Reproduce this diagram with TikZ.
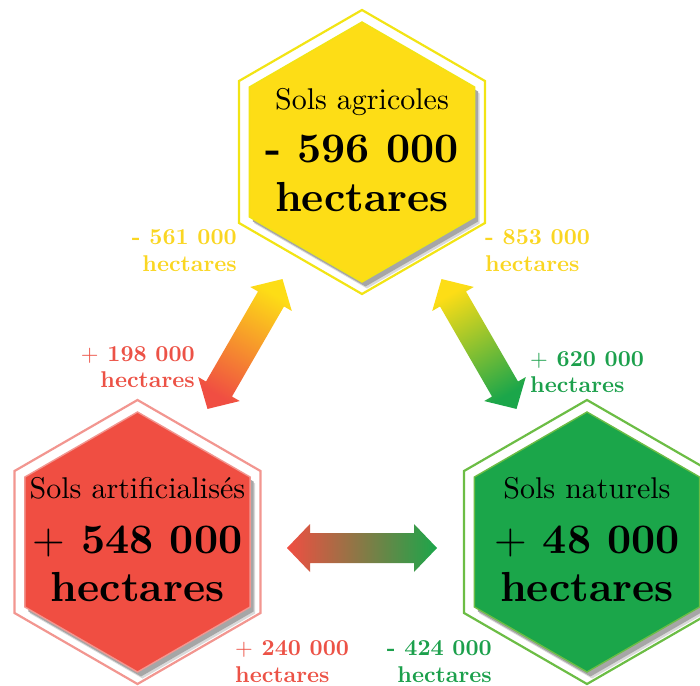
\documentclass[tikz,border=0pt]{standalone}
\usetikzlibrary{calc}
\definecolor{yfill}{RGB}{253,221,22}
\definecolor{yline}{RGB}{242,228,20}
\definecolor{ytext}{RGB}{250,214,34}
\definecolor{rfill}{RGB}{240,78,66}
\definecolor{rline}{RGB}{242,150,144}
\definecolor{rtext}{RGB}{236,82,70}
\definecolor{gfill}{RGB}{27,166,74}
\definecolor{gline}{RGB}{108,189,69}
\definecolor{gtext}{RGB}{28,160,76}
\newcommand\hexname[1]{\scalebox{3}{#1}}
\newcommand\hexval[1]{\scalebox{4.2}{\bfseries #1}}
\newcommand\lbltxt[1]{\scalebox{2.28}{\bfseries #1}}
\newcommand\thinplus{{\mdseries +}}
\tikzset{
  hexagon/.style={insert path={(90:#1) -- (150:#1) -- (210:#1) -- (270:#1) -- (330:#1) -- (30:#1) -- cycle}},
  dbarrow/.style={insert path={(-75,0) -- (-52,24) -- (-52,15) -- (52,15) -- (52,24) -- (75,0) -- (52,-24) -- (52,-15) -- (-52,-15) -- (-52,-24) -- cycle}},
  txt/.style={font=\fontsize{10}{12}\selectfont, inner sep=0pt, anchor=base},
}
\begin{document}
\begin{tikzpicture}[x=1pt,y=1pt]
\useasboundingbox (0,0) rectangle (700,685);
\clip (0,0) rectangle (700,685);
\coordinate (top) at (362,533);
\coordinate (art) at (137.5,143);
\coordinate (nat) at (587,143);

\foreach \c/\f/\l in {top/yfill/yline, art/rfill/rline, nat/gfill/gline}{
  \draw[shift={(\c)}, draw=\l, line width=2.2, fill=white, hexagon=142];
  \fill[shift={(\c)}, xshift=5, yshift=-6.5, gray!30, hexagon=130];
  \fill[shift={(\c)}, xshift=3.5, yshift=-4.5, gray!70, hexagon=130];
  \draw[shift={(\c)}, draw=\l, line width=1.4, fill=\f, hexagon=130];
}

% hexagon texts
\node[txt] (topname) at ($(top)+(0,42)$) {\hexname{Sols agricoles}};
\node[txt] (topval) at ($(top)+(0,-11)$) {\hexval{- 596 000}};
\node[txt] (topunit) at ($(top)+(0,-60)$) {\hexval{hectares}};

\node[txt] (artname) at ($(art)+(0,43)$) {\hexname{Sols artificialisés}};
\node[txt] (artval) at ($(art)+(0,-11)$) {\hexval{\thinplus{} 548 000}};
\node[txt] (artunit) at ($(art)+(0,-59)$) {\hexval{hectares}};

\node[txt] (natname) at ($(nat)+(0,43)$) {\hexname{Sols naturels}};
\node[txt] (natval) at ($(nat)+(0,-11)$) {\hexval{\thinplus{} 48 000}};
\node[txt] (natunit) at ($(nat)+(0,-59)$) {\hexval{hectares}};

% arrows
\coordinate (a1) at (245,341);
\coordinate (a2) at (479,341);
\coordinate (a3) at (362,137);
\shade[shift={(a1)}, rotate=60, top color=yfill, bottom color=rfill, shading angle=-30, dbarrow];
\shade[shift={(a2)}, rotate=-60, top color=yfill, bottom color=gfill, shading angle=30, dbarrow];
\shade[shift={(a3)}, left color=rfill, right color=gfill, dbarrow];

% small labels
\node[txt, text=ytext, anchor=base east] (l1a) at (237,440) {\lbltxt{- 561 000}};
\node[txt, text=ytext, anchor=base east] (l1b) at (237,413) {\lbltxt{hectares}};
\node[txt, text=rtext, anchor=base east] (l2a) at (195,323) {\lbltxt{\thinplus{} 198 000}};
\node[txt, text=rtext, anchor=base east] (l2b) at (195,297) {\lbltxt{hectares}};
\node[txt, text=ytext, anchor=base west] (l3a) at (485,440) {\lbltxt{- 853 000}};
\node[txt, text=ytext, anchor=base west] (l3b) at (485,413) {\lbltxt{hectares}};
\node[txt, text=gtext, anchor=base west] (l4a) at (530,318) {\lbltxt{\thinplus{} 620 000}};
\node[txt, text=gtext, anchor=base west] (l4b) at (530,292) {\lbltxt{hectares}};
\node[txt, text=rtext, anchor=base west] (l5a) at (235,30) {\lbltxt{\thinplus{} 240 000}};
\node[txt, text=rtext, anchor=base west] (l5b) at (235,3) {\lbltxt{hectares}};
\node[txt, text=gtext, anchor=base east] (l6a) at (492,30) {\lbltxt{- 424 000}};
\node[txt, text=gtext, anchor=base east] (l6b) at (492,3) {\lbltxt{hectares}};
\end{tikzpicture}
\end{document}
